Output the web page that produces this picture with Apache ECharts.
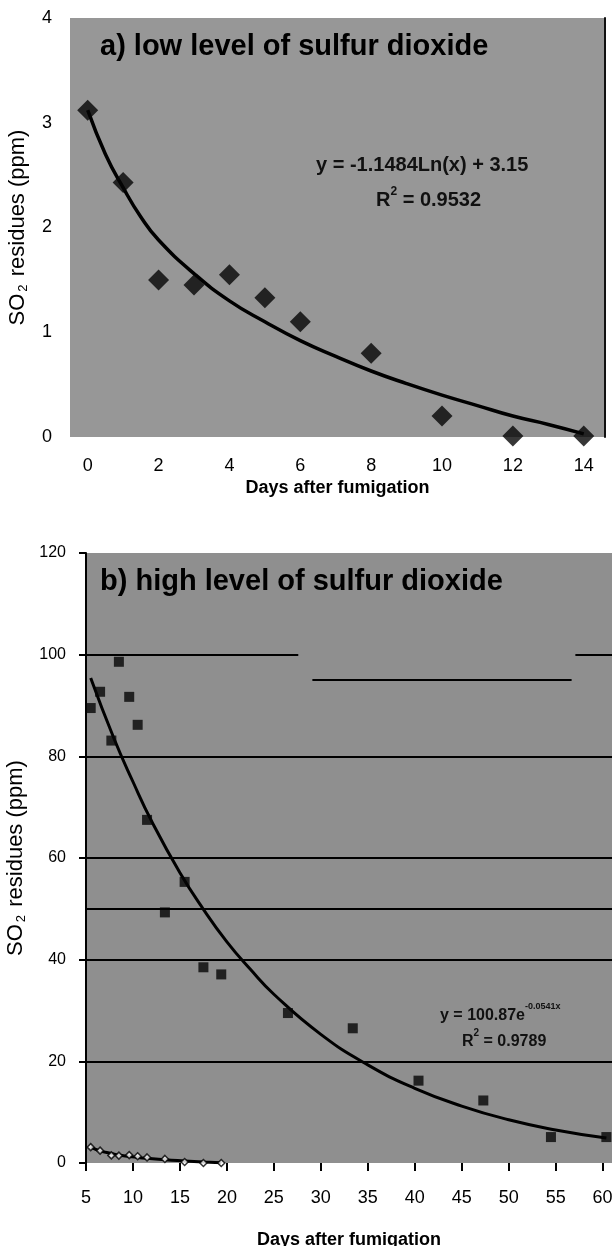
<!DOCTYPE html>
<html>
<head>
<meta charset="utf-8">
<script src="https://cdn.jsdelivr.net/npm/echarts@6/dist/echarts.min.js"></script>
<style>
  html, body { margin: 0; padding: 0; background: #fff; }
  #main { width: 615px; height: 1246px; }
</style>
</head>
<body>
<div id="main"></div>
<script>
// a) low level: measured points
var lowDays = [0, 1, 2, 3, 4, 5, 6, 8, 10, 12, 14];
var lowSO2 = [3.12, 2.43, 1.5, 1.45, 1.55, 1.33, 1.1, 0.8, 0.2, 0.01, 0.01];
// a) log trend line
var lowTrendDays = [0, 0.5, 1, 1.5, 2, 3, 4, 5, 6, 7, 8, 9, 10, 11, 12, 13, 14];
var lowTrendSO2 = [3.12, 2.7, 2.38, 2.1, 1.88, 1.56, 1.3, 1.1, 0.92, 0.77, 0.63, 0.51, 0.4, 0.3, 0.2, 0.12, 0.03];
var lowTicks = [0, 2, 4, 6, 8, 10, 12, 14];

// b) high level: measured points
var highDays = [5.5, 6.5, 7.7, 8.5, 9.6, 10.5, 11.5, 13.4, 15.5, 17.5, 19.4, 26.5, 33.4, 40.4, 47.3, 54.5, 60.4];
var highSO2 = [89.5, 92.7, 83.1, 98.6, 91.7, 86.2, 67.5, 49.3, 55.3, 38.5, 37.1, 29.5, 26.5, 16.2, 12.3, 5.1, 5.1];
// b) exponential trend line
var highTrendDays = [5.5, 8, 10, 12, 15, 17.5, 20, 22.5, 25, 30, 35, 40, 45, 50, 55, 60.4];
var highTrendSO2 = [95.4, 83.4, 75.0, 67.2, 57.1, 49.9, 43.5, 38.1, 33.2, 25.3, 19.3, 14.7, 11.2, 8.5, 6.5, 4.9];
// low-level series that also shows up at the bottom of panel b
var lowOnHighSO2 = [3.12, 2.43, 1.5, 1.45, 1.55, 1.33, 1.1, 0.8, 0.2, 0.01, 0.01];
var lowOnHighTrend = [3.12, 2.38, 1.88, 1.56, 1.3, 1.1, 0.92, 0.63, 0.4, 0.2, 0.03];

// horizontal rules in panel b: [y, xFrom, xTo]
var highRules = [
  [20, 5, 61], [40, 5, 61], [50, 5, 61], [60, 5, 61], [80, 5, 61],
  [100, 5, 27.6], [100, 57.1, 61], [95, 29.1, 56.7]
];

function pairs(xs, ys) {
  return xs.map(function (x, i) { return [x, ys[i]]; });
}

var myChart = echarts.init(document.getElementById('main'));

var fontBase = 'Liberation Sans, Arial, sans-serif';
var yName = {
  rich: {
    n: { fontSize: 22, fontFamily: fontBase, color: '#000', lineHeight: 24 },
    s: { fontSize: 13, fontFamily: fontBase, color: '#000', lineHeight: 24, verticalAlign: 'bottom', padding: [10, 2, 0, 2] }
  }
};

var option = {
  backgroundColor: '#fff',
  animation: false,
  textStyle: { fontFamily: fontBase },
  grid: [
    { left: 70, right: 10, top: 18, height: 419, show: true, backgroundColor: '#979797', borderWidth: 0, outerBoundsMode: 'none' },
    { left: 86, right: 3, top: 553, height: 610, show: true, backgroundColor: '#8f8f8f', borderWidth: 0, outerBoundsMode: 'none' }
  ],
  xAxis: [
    {
      gridIndex: 0, type: 'value', min: -0.5, max: 14.6,
      name: 'Days after fumigation', nameLocation: 'middle', nameGap: 42,
      nameTextStyle: { fontSize: 18, fontWeight: 'bold', color: '#000' },
      axisLine: { show: false }, axisTick: { show: false }, splitLine: { show: false },
      axisLabel: { customValues: lowTicks, fontSize: 18, color: '#000', margin: 20 }
    },
    {
      gridIndex: 1, type: 'value', min: 5, max: 61, interval: 5,
      name: 'Days after fumigation', nameLocation: 'middle', nameGap: 68,
      nameTextStyle: { fontSize: 18, fontWeight: 'bold', color: '#000' },
      axisLine: { show: false },
      axisTick: { show: true, length: 8, lineStyle: { color: '#000', width: 2 } },
      splitLine: { show: false },
      axisLabel: { fontSize: 18, color: '#000', margin: 26, showMaxLabel: false }
    }
  ],
  yAxis: [
    {
      gridIndex: 0, type: 'value', min: 0, max: 4, interval: 1,
      name: '{n|SO}{s|2}{n| residues (ppm)}', nameLocation: 'middle', nameGap: 40, nameRotate: 90,
      nameTextStyle: yName,
      axisLine: { show: false }, axisTick: { show: false }, splitLine: { show: false },
      axisLabel: { fontSize: 18, color: '#000', margin: 18 }
    },
    {
      gridIndex: 0, type: 'value', min: 0, max: 4, position: 'right',
      axisLine: { show: true, lineStyle: { color: '#111', width: 2 } },
      axisTick: { show: false }, axisLabel: { show: false }, splitLine: { show: false }
    },
    {
      gridIndex: 1, type: 'value', min: 0, max: 120, interval: 20,
      name: '{n|SO}{s|2}{n| residues (ppm)}', nameLocation: 'middle', nameGap: 56, nameRotate: 90,
      nameTextStyle: yName,
      axisLine: { show: true, lineStyle: { color: '#000', width: 2 } },
      axisTick: { show: true, length: 7, lineStyle: { color: '#000', width: 2 } },
      splitLine: { show: false },
      axisLabel: { fontSize: 16, color: '#000', margin: 20 }
    }
  ],
  series: [
    {
      name: 'low trend', type: 'line', xAxisIndex: 0, yAxisIndex: 0,
      data: pairs(lowTrendDays, lowTrendSO2), smooth: true, showSymbol: false,
      lineStyle: { color: '#000', width: 3.5 }, z: 3
    },
    {
      name: 'low', type: 'scatter', xAxisIndex: 0, yAxisIndex: 0,
      data: pairs(lowDays, lowSO2), symbol: 'diamond', symbolSize: [21, 21],
      itemStyle: { color: '#050505' }, z: 4
    },
    {
      name: 'rules', type: 'line', xAxisIndex: 1, yAxisIndex: 2, data: [],
      markLine: {
        silent: true, symbol: 'none', label: { show: false },
        lineStyle: { color: '#000', width: 2, type: 'solid' },
        data: highRules.map(function (r) {
          return [{ coord: [r[1], r[0]] }, { coord: [r[2], r[0]] }];
        })
      }
    },
    {
      name: 'high trend', type: 'line', xAxisIndex: 1, yAxisIndex: 2,
      data: pairs(highTrendDays, highTrendSO2), smooth: true, showSymbol: false,
      lineStyle: { color: '#000', width: 3 }, z: 3
    },
    {
      name: 'high', type: 'scatter', xAxisIndex: 1, yAxisIndex: 2,
      data: pairs(highDays, highSO2), symbol: 'rect', symbolSize: 10,
      itemStyle: { color: '#050505' }, z: 4
    },
    {
      name: 'low on b trend', type: 'line', xAxisIndex: 1, yAxisIndex: 2,
      data: pairs(highDays.slice(0, 11), lowOnHighTrend), smooth: true, showSymbol: false,
      lineStyle: { color: '#000', width: 3 }, z: 3
    },
    {
      name: 'low on b', type: 'scatter', xAxisIndex: 1, yAxisIndex: 2,
      data: pairs(highDays.slice(0, 11), lowOnHighSO2), symbol: 'diamond', symbolSize: 7,
      itemStyle: { color: '#fff', borderColor: '#000', borderWidth: 1.5 }, z: 4
    }
  ],
  graphic: [
    {
      type: 'text', left: 100, top: 32,
      style: { text: 'a) low level of sulfur dioxide', font: 'bold 29px Liberation Sans, Arial, sans-serif', fill: '#000' }
    },
    {
      type: 'text', left: 316, top: 155,
      style: { text: 'y = -1.1484Ln(x) + 3.15', font: 'bold 20px Liberation Sans, Arial, sans-serif', fill: '#111' }
    },
    {
      type: 'text', left: 376, top: 186,
      style: {
        text: '{b|R}{p|2}{b| = 0.9532}',
        rich: {
          b: { font: 'bold 20px Liberation Sans, Arial, sans-serif', fill: '#111', lineHeight: 24, verticalAlign: 'bottom' },
          p: { font: 'bold 12px Liberation Sans, Arial, sans-serif', fill: '#111', lineHeight: 24, verticalAlign: 'top' }
        }
      }
    },
    {
      type: 'text', left: 100, top: 567,
      style: { text: 'b) high level of sulfur dioxide', font: 'bold 29px Liberation Sans, Arial, sans-serif', fill: '#000' }
    },
    {
      type: 'text', left: 440, top: 1002,
      style: {
        text: '{b|y = 100.87e}{p|-0.0541x}',
        rich: {
          b: { font: 'bold 16px Liberation Sans, Arial, sans-serif', fill: '#111', lineHeight: 22, verticalAlign: 'bottom' },
          p: { font: 'bold 9px Liberation Sans, Arial, sans-serif', fill: '#111', lineHeight: 22, verticalAlign: 'top' }
        }
      }
    },
    {
      type: 'text', left: 462, top: 1028,
      style: {
        text: '{b|R}{p|2}{b| = 0.9789}',
        rich: {
          b: { font: 'bold 16px Liberation Sans, Arial, sans-serif', fill: '#111', lineHeight: 22, verticalAlign: 'bottom' },
          p: { font: 'bold 10px Liberation Sans, Arial, sans-serif', fill: '#111', lineHeight: 22, verticalAlign: 'top' }
        }
      }
    }
  ]
};

myChart.setOption(option);
</script>
</body>
</html>
